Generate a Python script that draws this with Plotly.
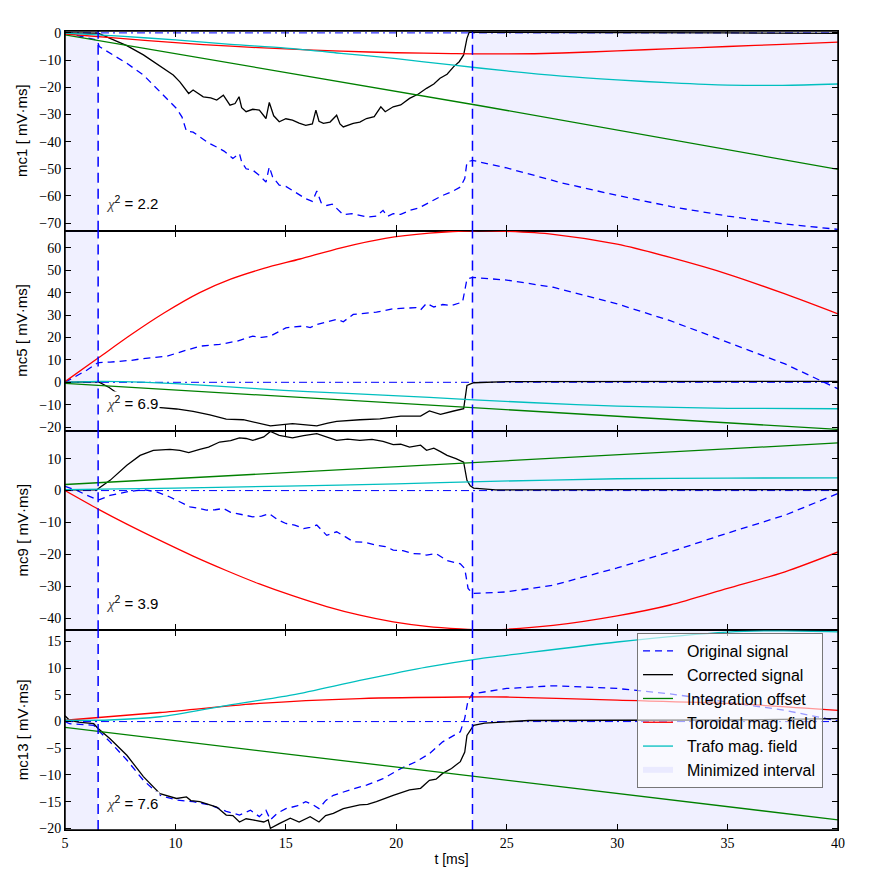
import plotly.graph_objects as go
from plotly.subplots import make_subplots

# ---------------- data ----------------
t_range = [5, 40]
interval_edges = [6.5, 23.45]          # minimized interval: [5, 6.5] and [23.45, 40]
chi2_values = ["2.2", "6.9", "3.9", "7.6"]
panel_names = ["mc1", "mc5", "mc9", "mc13"]
y_ranges = [[-72.8, 0.7], [-21.5, 67.6], [-43.7, 18.8], [-20.3, 17.1]]
y_ticks = [list(range(-70, 1, 10)), list(range(-20, 61, 10)),
           list(range(-40, 11, 10)), list(range(-20, 16, 5))]
x_ticks = [5, 10, 15, 20, 25, 30, 35, 40]

# ---- mc1 ----
t_orig_mc1 = [5.0, 5.5, 6.0, 6.45, 6.55, 7.04, 7.8, 8.55, 9.3, 10.05, 10.3, 10.5, 10.8, 11.1, 11.5, 11.87,
              12.2, 12.6, 12.9, 13.0, 13.2, 13.5, 13.8, 14.1, 14.25, 14.4, 14.7, 15.0, 15.3, 15.6, 15.9,
              16.2, 16.4, 16.6, 16.85, 17.1, 17.3, 17.6, 18.0, 18.35, 18.7, 19.1, 19.4, 19.6, 19.86, 20.2,
              20.6, 21.0, 21.37, 21.7, 22.1, 22.5, 22.9, 23.1, 23.2, 23.45, 25, 27.5, 30, 32.5, 35, 37.5, 40]
orig_mc1 = [0.0, -0.8, -1.7, -2.6, -5.0, -7.5, -11.2, -15.5, -21.6, -27.8, -31.0, -36.2, -36.5, -38.3, -40.5, -42.0,
            -43.5, -46.2, -44.4, -47.5, -50.0, -50.5, -52.4, -54.9, -49.3, -53.0, -56.0, -56.5, -57.9, -59.5, -61.0,
            -62.0, -58.2, -62.5, -63.5, -63.0, -64.7, -66.9, -66.5, -67.2, -67.8, -67.4, -65.3, -67.5, -66.5, -66.8,
            -65.3, -64.5, -62.9, -61.6, -59.8, -58.5, -56.7, -53.6, -47.5, -46.9, -49.7, -55.2, -59.8, -64.0, -67.4, -70.2, -72.3]
t_corr_mc1 = [5.0, 6.0, 6.5, 7.04, 7.8, 8.55, 9.3, 9.9, 10.2, 10.6, 10.8, 11.26, 11.6, 11.87, 12.17, 12.47, 12.7,
              12.88, 13.0, 13.2, 13.5, 13.8, 14.1, 14.25, 14.45, 14.7, 15.0, 15.3, 15.6, 15.9, 16.2, 16.36, 16.5,
              16.7, 17.0, 17.3, 17.45, 17.6, 18.05, 18.35, 18.65, 19.0, 19.3, 19.5, 19.86, 20.2, 20.6, 21.0, 21.37,
              21.7, 21.98, 22.3, 22.6, 22.85, 23.05, 23.2, 23.3, 25, 30, 35, 40]
corr_mc1 = [0.0, 0.0, -0.1, -2.0, -4.7, -8.1, -12.4, -15.5, -18.0, -22.3, -21.0, -23.5, -23.9, -24.7, -22.9, -26.6, -26.0,
            -23.5, -27.5, -29.0, -28.1, -28.4, -31.5, -25.6, -30.5, -32.7, -31.6, -32.1, -33.2, -34.0, -33.5, -28.4, -32.5,
            -33.3, -32.8, -30.3, -33.5, -34.6, -33.3, -32.8, -31.5, -30.8, -27.2, -29.0, -27.2, -26.5, -24.1, -22.5, -20.4,
            -18.8, -16.7, -15.2, -12.4, -10.6, -8.1, -2.0, 0.2, 0.2, 0.1, 0.0, -0.2]
t_off_mc1 = [5, 23.8, 40]
off_mc1 = [-0.7, -26.8, -50.2]
t_tor_mc1 = [5, 7.5, 10, 12.5, 15, 17.5, 20, 22.5, 25, 27.5, 30, 32.5, 35, 37.5, 40]
tor_mc1 = [-0.4, -2.0, -3.6, -4.9, -5.9, -6.7, -7.3, -7.6, -7.75, -7.4, -6.6, -5.8, -5.0, -4.2, -3.4]
t_tra_mc1 = [5, 7.5, 10, 12.5, 15, 17.5, 20, 22.5, 25, 27.5, 30, 32.5, 35, 37.5, 40]
tra_mc1 = [-0.1, -1.2, -2.6, -4.2, -5.6, -7.5, -9.5, -11.8, -14.0, -15.9, -17.3, -18.4, -19.2, -19.3, -18.8]

# ---- mc5 ----
t_orig_mc5 = [5.0, 6.0, 6.45, 6.55, 7.04, 8.0, 8.55, 9.6, 10.35, 11.1, 12.0, 12.8, 13.5, 13.9, 14.3, 15.0, 15.8,
              16.1, 16.4, 17.3, 17.6, 18.05, 19.1, 19.86, 20.9, 21.1, 21.37, 21.7, 22.1, 22.5, 23.0, 23.2, 23.45,
              25, 27.1, 30, 32.4, 35, 37.6, 40]
orig_mc5 = [0.0, 5.5, 8.5, 8.8, 9.0, 9.8, 10.6, 11.6, 13.9, 16.1, 16.9, 18.4, 20.6, 20.0, 20.6, 24.3, 25.1,
            24.4, 25.8, 28.1, 27.0, 30.3, 31.3, 32.8, 33.3, 32.3, 35.2, 33.6, 34.7, 34.3, 35.8, 46.0, 46.8,
            45.6, 42.4, 35.0, 27.5, 17.9, 8.2, -2.9]
t_corr_mc5 = [5.0, 6.0, 6.5, 7.0, 7.3, 8.0, 8.7, 9.2, 10.05, 10.8, 11.56, 12.3, 13.07, 13.8, 14.3, 15.3, 15.8,
              16.4, 16.9, 17.3, 18.35, 19.26, 20.2, 21.1, 21.5, 22.0, 22.6, 23.05, 23.2, 23.5, 25, 30, 35, 40]
corr_mc5 = [0.0, 0.3, 0.3, -2.3, -4.4, -7.5, -9.8, -11.2, -11.9, -13.0, -14.5, -16.4, -16.7, -18.2, -19.4, -18.4, -18.9,
            -19.4, -18.2, -17.4, -16.7, -16.3, -15.1, -15.1, -12.8, -14.3, -12.8, -11.8, -1.4, -0.2, 0.3, 0.4, 0.4, 0.4]
t_off_mc5 = [5, 23.8, 40]
off_mc5 = [-0.5, -11.4, -21.0]
t_tor_mc5 = [5, 6.5, 8, 9.5, 11.1, 12.5, 14, 15.64, 17.5, 19.5, 21.5, 23.5, 25, 27.1, 30, 32.4, 35, 37.6, 40]
tor_mc5 = [0.3, 10.8, 21.3, 31.0, 40.0, 46.0, 50.8, 55.0, 60.0, 64.2, 66.5, 67.6, 67.3, 66.0, 61.6, 55.7, 48.3, 39.4, 30.5]
t_tra_mc5 = [5, 6.5, 8, 10, 13.8, 16, 19.86, 23.3, 26, 30, 35, 40]
tra_mc5 = [0.0, 0.4, 0.2, -0.6, -2.9, -4.2, -5.9, -7.7, -9.0, -10.6, -11.6, -11.8]

# ---- mc9 ----
t_orig_mc9 = [5.0, 5.5, 6.0, 6.5, 7.04, 7.8, 8.55, 9.15, 9.75, 10.2, 10.66, 11.0, 11.4, 11.8, 12.17, 12.5, 12.8,
              13.5, 13.9, 14.25, 14.6, 15.0, 15.4, 15.8, 16.1, 16.4, 16.85, 17.3, 17.7, 18.05, 18.6, 19.1, 19.5,
              19.86, 20.3, 20.75, 21.1, 21.37, 21.8, 22.3, 22.9, 23.1, 23.25, 23.45, 25, 27.1, 30, 32.4, 35, 37.6, 40]
orig_mc9 = [1.3, 0.2, -1.5, -3.0, -1.5, -0.4, 0.3, -0.4, -2.0, -3.5, -5.1, -5.5, -6.1, -6.0, -5.6, -6.8, -7.2,
            -8.2, -8.0, -7.2, -9.0, -10.3, -10.8, -11.9, -11.5, -10.8, -14.0, -12.9, -14.5, -16.0, -16.2, -17.1, -17.5,
            -18.6, -18.8, -19.7, -19.8, -20.2, -19.7, -21.9, -22.9, -24.4, -30.6, -32.2, -31.7, -29.6, -24.2, -19.2, -13.3, -7.7, -0.9]
t_corr_mc9 = [5.0, 6.45, 6.5, 7.04, 7.8, 8.4, 9.0, 9.75, 10.2, 10.6, 11.1, 11.5, 12.0, 12.5, 12.9, 13.2, 13.5, 14.0,
              14.3, 14.7, 15.3, 15.8, 16.4, 16.8, 17.3, 17.8, 18.35, 18.9, 19.4, 19.86, 20.2, 20.6, 21.1, 21.37, 21.7,
              22.0, 22.3, 22.7, 23.05, 23.2, 23.35, 23.5, 24.5, 30, 35, 40]
corr_mc9 = [0.2, 0.2, 0.6, 3.2, 7.9, 11.0, 12.6, 12.9, 12.6, 11.9, 12.9, 13.6, 15.2, 15.6, 16.5, 16.3, 15.7, 16.8,
            18.5, 17.3, 16.5, 17.2, 17.8, 16.8, 15.7, 16.1, 15.7, 16.0, 15.4, 14.4, 14.5, 13.6, 14.2, 12.6, 13.3,
            12.2, 11.0, 10.0, 8.9, 3.2, 1.5, 0.8, 0.2, 0.3, 0.3, 0.3]
t_off_mc9 = [5, 40]
off_mc9 = [1.9, 14.9]
t_tor_mc9 = [5, 6.5, 7.8, 9.3, 10.8, 12.3, 13.8, 15.3, 16.85, 18.35, 19.86, 21.37, 22.9, 24, 25, 27.1, 30, 32.4, 35, 37.6, 40]
tor_mc9 = [0.0, -5.8, -10.5, -15.6, -20.5, -25.0, -29.2, -32.9, -36.3, -39.0, -41.1, -42.5, -43.3, -43.6, -43.4,
           -42.2, -39.2, -35.8, -30.6, -25.4, -19.2]
t_tra_mc9 = [5, 10, 15, 20, 23.8, 30, 35, 40]
tra_mc9 = [0.3, 0.8, 1.4, 2.1, 2.8, 3.7, 3.9, 4.0]

# ---- mc13 ----
t_orig_mc13 = [5.0, 5.2, 6.0, 6.3, 6.5, 7.04, 7.8, 8.55, 9.3, 10.05, 10.8, 11.56, 12.3, 12.9, 13.4, 13.8, 14.1,
               14.3, 14.6, 15.0, 15.5, 15.9, 16.2, 16.5, 16.8, 17.15, 17.9, 18.65, 19.4, 20.2, 20.9, 21.5, 22.1,
               22.9, 23.1, 23.25, 23.45, 25, 27.1, 30, 32.4, 35, 37.6, 40]
orig_mc13 = [0.0, -0.4, -0.6, -0.7, -1.6, -3.8, -7.2, -11.0, -13.8, -14.7, -15.0, -15.6, -16.8, -17.5, -16.6, -17.8, -16.6,
             -18.4, -17.2, -16.3, -15.8, -15.0, -15.5, -16.3, -14.8, -13.8, -12.8, -11.9, -10.7, -8.8, -7.5, -6.0, -3.8,
             -1.9, 0.6, 4.0, 5.2, 6.2, 6.7, 6.2, 5.2, 3.7, 2.1, 0.1]
t_corr_mc13 = [5.0, 5.2, 5.6, 6.0, 6.3, 6.5, 7.04, 7.8, 8.55, 9.3, 10.05, 10.5, 10.7, 11.1, 11.5, 11.87, 12.3, 12.6,
               12.9, 13.2, 13.5, 14.0, 14.2, 14.3, 14.7, 15.2, 15.6, 16.1, 16.5, 16.8, 17.15, 17.6, 18.35, 18.7, 19.1,
               19.5, 19.86, 20.6, 21.1, 21.5, 21.8, 22.1, 22.5, 22.9, 23.1, 23.2, 23.5, 24, 26, 30, 35, 40]
corr_mc13 = [1.1, 0.25, -0.1, -0.2, -0.4, -1.3, -3.2, -6.3, -10.3, -13.5, -14.4, -14.1, -14.8, -15.0, -15.5, -16.0, -17.5, -17.6,
             -18.8, -18.2, -18.4, -18.8, -18.4, -20.0, -19.1, -18.1, -18.8, -17.8, -18.8, -17.6, -17.2, -16.3, -15.6, -15.5, -15.0,
             -14.3, -13.8, -12.8, -12.5, -11.0, -10.8, -9.7, -8.8, -7.5, -5.7, -2.6, -0.7, -0.3, 0.2, 0.25, 0.3, 0.55]
t_off_mc13 = [5, 40]
off_mc13 = [-1.1, -18.4]
t_tor_mc13 = [5, 9.3, 13.8, 18.35, 22.9, 25, 30, 35, 40]
tor_mc13 = [0.25, 1.7, 3.4, 4.3, 4.6, 4.6, 4.0, 3.4, 2.1]
t_tra_mc13 = [5, 7, 9.3, 12.3, 15.3, 18.35, 21.37, 23.8, 25, 30, 35, 37.5, 40]
tra_mc13 = [0.25, 0.3, 0.9, 3.0, 5.0, 7.7, 10.2, 11.8, 12.4, 14.9, 16.75, 17.0, 16.8]

series_names = ["Original signal", "Corrected signal", "Integration offset",
                "Toroidal mag. field", "Trafo mag. field"]
interval_name = "Minimized interval"

panels = [
    [(t_orig_mc1, orig_mc1), (t_corr_mc1, corr_mc1), (t_off_mc1, off_mc1), (t_tor_mc1, tor_mc1), (t_tra_mc1, tra_mc1)],
    [(t_orig_mc5, orig_mc5), (t_corr_mc5, corr_mc5), (t_off_mc5, off_mc5), (t_tor_mc5, tor_mc5), (t_tra_mc5, tra_mc5)],
    [(t_orig_mc9, orig_mc9), (t_corr_mc9, corr_mc9), (t_off_mc9, off_mc9), (t_tor_mc9, tor_mc9), (t_tra_mc9, tra_mc9)],
    [(t_orig_mc13, orig_mc13), (t_corr_mc13, corr_mc13), (t_off_mc13, off_mc13), (t_tor_mc13, tor_mc13), (t_tra_mc13, tra_mc13)],
]

# ---------------- styles ----------------
colors = ["#0000ff", "#000000", "#008000", "#ff0000", "#00bfbf"]
dashes = ["7px,5px", "solid", "solid", "solid", "solid"]
shapes_line = ["linear", "linear", "linear", "spline", "spline"]
shade_color = "rgba(0,0,255,0.06)"
SANS = "Liberation Sans"
SERIF = "Liberation Serif"
LEG_PAD = "\u00a0\u00a0"   # extra gap between legend sample and label

fig = make_subplots(rows=4, cols=1, shared_xaxes=True, vertical_spacing=0)


def ax(row, kind):
    return f"{kind}{'' if row == 1 else row}"


for p, series in enumerate(panels):
    row = p + 1
    ylo, yhi = y_ranges[p]
    # minimized interval shading
    sx = [t_range[0], interval_edges[0], interval_edges[0], t_range[0], t_range[0], None,
          interval_edges[1], t_range[1], t_range[1], interval_edges[1], interval_edges[1]]
    sy = [ylo, ylo, yhi, yhi, ylo, None, ylo, ylo, yhi, yhi, ylo]
    fig.add_trace(go.Scatter(x=sx, y=sy, mode="none", fill="toself", fillcolor=shade_color,
                             name=LEG_PAD + interval_name, showlegend=(p == 0), legendrank=6,
                             hoverinfo="skip"), row=row, col=1)
    # zero line (dash-dot)
    fig.add_trace(go.Scatter(x=t_range, y=[0, 0], mode="lines", showlegend=False,
                             line=dict(color="#0000ff", width=1, dash="8px,4px,2px,4px")),
                  row=row, col=1)
    for k, (tx, vy) in enumerate(series):
        fig.add_trace(go.Scatter(x=tx, y=vy, mode="lines", name=LEG_PAD + series_names[k],
                                 showlegend=(p == 0), legendrank=k + 1,
                                 line=dict(color=colors[k], width=1.3, dash=dashes[k],
                                           shape=shapes_line[k], smoothing=0.8)),
                      row=row, col=1)
    # vertical interval borders
    for e in interval_edges:
        fig.add_shape(type="line", x0=e, x1=e, y0=0, y1=1, xref=ax(row, "x"),
                      yref=ax(row, "y") + " domain",
                      line=dict(color="#0000ff", width=1.5, dash="10px,6px"))
    # chi^2 label
    fig.add_annotation(x=6.75, y=0, xref=ax(row, "x"), yref=ax(row, "y") + " domain",
                       xanchor="left", yanchor="middle", yshift=28, showarrow=False,
                       text=f'<span style="font-family:{SERIF};color:#444"><i>χ</i></span><sup>2</sup> = {chi2_values[p]}',
                       font=dict(family=SANS, size=15, color="black"),
                       bgcolor="white", borderpad=1)
    # y-axis title
    fig.add_annotation(x=0, y=0.5, xref="paper", yref=ax(row, "y") + " domain",
                       xshift=-43, xanchor="center", yanchor="middle", textangle=-90,
                       showarrow=False, text=f"{panel_names[p]} [ mV·ms]",
                       font=dict(family=SANS, size=15, color="black"))
    fig.update_yaxes(range=[ylo, yhi], tickvals=y_ticks[p], row=row, col=1)

# outer frame (thicker border like the reference)
fig.add_shape(type="rect", xref="paper", yref="paper", x0=0, x1=1, y0=0, y1=1,
              line=dict(color="black", width=1.5), layer="above")

fig.update_xaxes(range=t_range, tickvals=x_ticks, ticks="inside", ticklen=6, tickwidth=1,
                 tickcolor="black", showline=True, linecolor="black", linewidth=1,
                 mirror="ticks", showgrid=False, zeroline=False, automargin=False,
                 tickfont=dict(family=SERIF, size=14, color="black"))
fig.update_xaxes(title=dict(text="t [ms]", font=dict(family=SANS, size=14, color="black"), standoff=4),
                 row=4, col=1)
fig.update_yaxes(ticks="inside", ticklen=6, tickwidth=1, tickcolor="black",
                 showline=True, linecolor="black", linewidth=1, mirror="ticks",
                 showgrid=False, zeroline=False, automargin=False,
                 tickfont=dict(family=SERIF, size=14, color="black"))

# page body has an 8px margin: offsets below compensate so the plot area sits at x 65-838, y 31-830
fig.update_layout(
    width=870, height=870,
    margin=dict(l=57, r=40, t=23, b=48),
    plot_bgcolor="white", paper_bgcolor="white",
    showlegend=True,
    legend=dict(x=0.74, y=0.2466, xanchor="left", yanchor="top",
                bgcolor="rgba(255,255,255,0.6)", bordercolor="#777", borderwidth=1,
                font=dict(family=SANS, size=16, color="black"),
                traceorder="normal", itemwidth=30),
)

fig.write_html("out.html")
